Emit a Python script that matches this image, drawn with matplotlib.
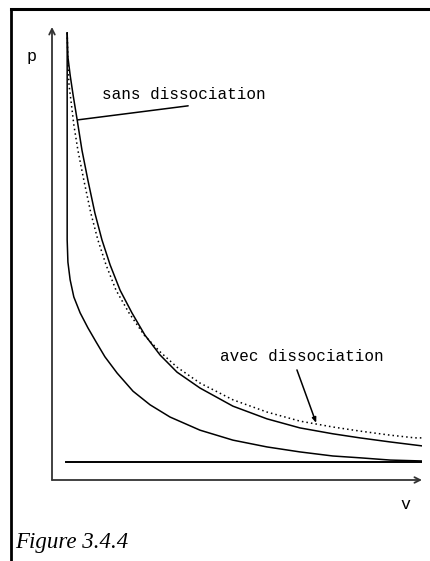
import matplotlib
matplotlib.use("Agg")
import matplotlib.pyplot as plt
from matplotlib.lines import Line2D

# isotherme sans dissociation (trait plein)
v_sans = [0.41, 0.43, 0.49, 0.57, 0.68, 0.81, 0.97, 1.16, 1.35, 1.57, 1.84, 2.16,
          2.51, 2.92, 3.38, 4.00, 4.89, 5.81, 6.70, 7.59, 8.32, 9.14, 10.03]
p_sans = [9.87, 9.34, 8.94, 8.50, 7.95, 7.28, 6.62, 5.89, 5.30, 4.75, 4.19, 3.69,
          3.20, 2.76, 2.38, 2.03, 1.63, 1.35, 1.15, 1.02, 0.93, 0.84, 0.75]

# isotherme avec dissociation (pointillé)
v_avec = [0.41, 0.43, 0.46, 0.51, 0.59, 0.70, 0.86, 1.05, 1.24, 1.46, 1.73, 2.08,
          2.49, 2.92, 3.38, 4.00, 4.89, 5.81, 6.70, 7.59, 8.32, 9.14, 9.81, 10.03]
p_avec = [9.87, 9.27, 8.72, 8.39, 7.84, 7.28, 6.62, 5.89, 5.30, 4.75, 4.19, 3.69,
          3.20, 2.83, 2.49, 2.14, 1.77, 1.50, 1.30, 1.17, 1.08, 0.99, 0.93, 0.93]

# isotherme basse
v_bas = [0.41, 0.41, 0.43, 0.49, 0.59, 0.76, 0.97, 1.19, 1.43, 1.76, 2.19, 2.65,
         3.19, 4.00, 4.89, 5.81, 6.70, 7.59, 8.32, 9.14, 10.0]
p_bas = [9.87, 5.30, 4.81, 4.42, 4.04, 3.69, 3.36, 3.05, 2.72, 2.36, 1.96, 1.66,
         1.39, 1.10, 0.88, 0.73, 0.62, 0.53, 0.49, 0.44, 0.42]

# ligne de base et fermeture a droite
v_base = [0.38, 10.03, 10.03]
p_base = [0.40, 0.40, 0.75]

fig = plt.figure(figsize=(4.3, 5.61), dpi=100)
ax = fig.add_axes([52 / 430, 81 / 561, 370 / 430, 453 / 561])
ax.set_xlim(0, 10)
ax.set_ylim(0, 10)
ax.axis("off")

ax.plot(v_bas, p_bas, color="black", lw=1.1)
ax.plot(v_sans, p_sans, color="black", lw=1.1)
ax.plot(v_avec, p_avec, color="black", lw=1.1, dashes=(1, 2))
ax.plot(v_base, p_base, color="black", lw=1.4)

# axes avec fleches
arrow = dict(arrowstyle="->", lw=1.3, color="#333333", shrinkA=0, shrinkB=0)
ax.annotate("", xy=(0, 1), xytext=(0, 0), xycoords="axes fraction", arrowprops=arrow)
ax.annotate("", xy=(1, 0), xytext=(0, 0), xycoords="axes fraction", arrowprops=arrow)

mono = "Liberation Mono"
ax.text(-0.54, 9.34, "p", family=mono, fontsize=12, ha="center", va="center", clip_on=False)
ax.text(9.54, -0.53, "v", family=mono, fontsize=12, ha="center", va="center", clip_on=False)

# legendes avec traits de rappel
ax.text(1.35, 8.50, "sans dissociation", family=mono, fontsize=11.5, va="center")
ax.annotate("", xy=(0.70, 7.95), xytext=(3.68, 8.26),
            arrowprops=dict(arrowstyle="-", lw=1.1, color="black", shrinkA=0, shrinkB=0))
ax.text(4.54, 2.72, "avec dissociation", family=mono, fontsize=11.5, va="center")
ax.annotate("", xy=(7.14, 1.26), xytext=(6.62, 2.43),
            arrowprops=dict(arrowstyle="-|>,head_length=0.3,head_width=0.12", lw=1.1,
                            color="black", shrinkA=0, shrinkB=0))

# cadre
fig.add_artist(Line2D([11 / 430, 1], [1 - 9 / 561] * 2, transform=fig.transFigure,
                      color="black", lw=2.2))
fig.add_artist(Line2D([11 / 430] * 2, [0, 1 - 9 / 561], transform=fig.transFigure,
                      color="black", lw=2.0))

fig.text(15 / 430, 1 - 548 / 561, "Figure 3.4.4", family="Liberation Serif",
         style="italic", fontsize=16.5, va="baseline")

fig.savefig("out.png", dpi=100)
